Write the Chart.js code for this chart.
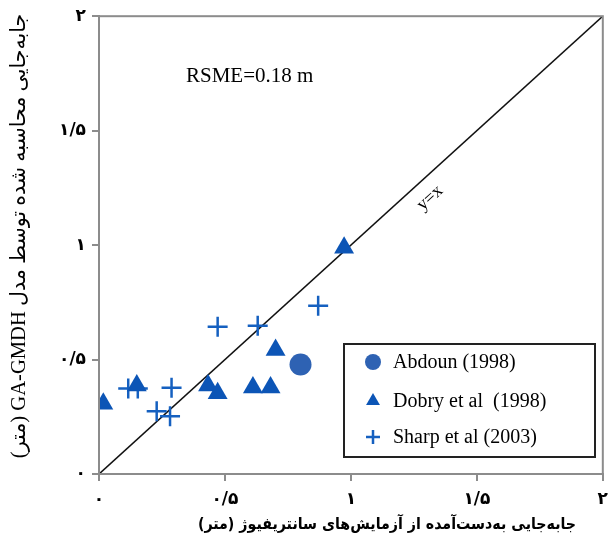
<!DOCTYPE html>
<html>
<head>
<meta charset="utf-8">
<script src="https://cdn.jsdelivr.net/npm/chart.js@4.4.1/dist/chart.umd.min.js"></script>
<style>
html, body { margin: 0; padding: 0; background: #fff; overflow: hidden; }
#wrap { width: 616px; height: 545px; }
</style>
</head>
<body>
<div id="wrap"><canvas id="chart"></canvas></div>
<script>
"use strict";
const tickValues = [0, 0.5, 1, 1.5, 2];
const tickLabels = ["۰", "۰/۵", "۱", "۱/۵", "۲"];
const abdounX = [0.80];
const abdounY = [0.478];
const dobryX = [0.017, 0.150, 0.433, 0.471, 0.611, 0.681, 0.701, 0.973];
const dobryY = [0.307, 0.387, 0.387, 0.353, 0.378, 0.378, 0.542, 0.988];
const sharpX = [0.116, 0.154, 0.288, 0.229, 0.282, 0.471, 0.630, 0.870];
const sharpY = [0.373, 0.373, 0.377, 0.274, 0.252, 0.643, 0.648, 0.735];
const lineX = [0, 2];
const lineY = [0, 2];
const legendLabels = ["Abdoun (1998)", "Dobry et al  (1998)", "Sharp et al (2003)"];
const xTitle = "جابه‌جایی به‌دست‌آمده از آزمایش‌های سانتریفیوژ (متر)";
const yTitle = "جابه‌جایی محاسبه شده توسط مدل GA-GMDH (متر)";
const rsmeText = "RSME=0.18 m";
const lineLabel = "y=x";

const axisGray = "#8c8c8c";
const toPoints = (xs, ys) => xs.map((x, i) => ({ x: x, y: ys[i] }));

function tickLabel(v) {
    const i = tickValues.indexOf(v);
    return i < 0 ? "" : tickLabels[i];
}

function axisOptions(isX) {
    return {
        type: "linear",
        min: 0,
        max: 2,
        afterBuildTicks: (axis) => axis.ticks = tickValues.map(v => ({ value: v })),
        afterFit: (scale) => {
            if (isX) scale.height = 71;
            else scale.width = 99;
        },
        ticks: {
            callback: (v) => tickLabel(v),
            color: "#000",
            padding: isX ? 8 : 6,
            font: { family: "DejaVu Sans", size: 17, weight: "bold" }
        },
        grid: {
            drawOnChartArea: false,
            drawTicks: true,
            tickLength: 7,
            color: axisGray,
            lineWidth: 2
        },
        border: { color: axisGray, width: 2 }
    };
}

// pick a font size so the text spans the wanted length
function fitFont(c, text, style, family, width) {
    c.font = style + ' 20px ' + family;
    const size = 20 * width / c.measureText(text).width;
    return style + ' ' + size.toFixed(1) + 'px ' + family;
}

// frame, titles, legend box and the text notes
const extras = {
    id: "extras",
    afterDatasetsDraw(chart) {
        const c = chart.ctx;
        const a = chart.chartArea;
        c.save();
        c.strokeStyle = axisGray;
        c.lineWidth = 2;
        c.strokeRect(a.left, a.top, a.right - a.left, a.bottom - a.top);

        c.fillStyle = "#000";
        c.direction = "ltr";
        c.textBaseline = "middle";
        c.textAlign = "left";
        c.font = '21px "Liberation Serif"';
        c.fillText(rsmeText, 186, 76);

        // label along the y=x line
        c.save();
        c.translate(430, 198);
        c.rotate(-Math.atan2(a.bottom - a.top, a.right - a.left));
        c.textAlign = "center";
        c.font = '18px "Liberation Serif"';
        c.fillText(lineLabel, 0, 0);
        c.restore();

        // legend
        c.lineWidth = 2;
        c.strokeStyle = "#222";
        c.strokeRect(344, 344, 251, 113);
        const rows = [362, 401, 437];
        const sets = chart.data.datasets;
        c.font = '20px "Liberation Serif"';
        for (let i = 0; i < 3; i++) {
            const ds = sets[i];
            const isCross = ds.pointStyle === "cross";
            c.fillStyle = ds.backgroundColor;
            c.strokeStyle = ds.borderColor;
            c.lineWidth = isCross ? 2.5 : 0;
            Chart.helpers.drawPoint(c, {
                pointStyle: ds.pointStyle,
                radius: isCross ? 7 : 8,
                borderWidth: isCross ? 2.5 : 0,
                rotation: 0
            }, 373, rows[i]);
            c.fillStyle = "#000";
            c.fillText(legendLabels[i], 393, rows[i] + 1);
        }

        // axis titles, right to left
        c.direction = "rtl";
        c.textAlign = "center";
        c.fillStyle = "#000";
        c.font = fitFont(c, xTitle, "bold", '"DejaVu Sans Condensed", "DejaVu Sans"', 378);
        c.fillText(xTitle, 387, 525);
        c.save();
        c.translate(20, 236);
        c.rotate(-Math.PI / 2);
        c.font = fitFont(c, yTitle, "normal", '"Liberation Serif", "DejaVu Sans"', 444);
        c.fillText(yTitle, 0, 0);
        c.restore();
        c.restore();
    }
};

const chart = new Chart(document.getElementById("chart").getContext("2d"), {
    type: "scatter",
    data: {
        datasets: [{
                label: legendLabels[0],
                data: toPoints(abdounX, abdounY),
                pointStyle: "circle",
                pointRadius: 11,
                pointBorderWidth: 0,
                backgroundColor: "#2e62b3",
                borderColor: "#2e62b3"
            }, {
                label: legendLabels[1],
                data: toPoints(dobryX, dobryY),
                pointStyle: "triangle",
                pointRadius: 11.5,
                pointBorderWidth: 0,
                backgroundColor: "#0c55b6",
                borderColor: "#0c55b6"
            }, {
                label: legendLabels[2],
                data: toPoints(sharpX, sharpY),
                pointStyle: "cross",
                pointRadius: 10,
                pointBorderWidth: 2.5,
                backgroundColor: "#1560c0",
                borderColor: "#1560c0"
            }, {
                label: lineLabel,
                data: toPoints(lineX, lineY),
                showLine: true,
                pointRadius: 0,
                borderWidth: 1.6,
                borderColor: "#111",
                backgroundColor: "#111"
            }]
    },
    options: {
        responsive: true,
        maintainAspectRatio: false,
        animation: false,
        layout: { padding: { top: 13, right: 0, left: 0, bottom: 0 } },
        plugins: {
            legend: { display: false },
            tooltip: { enabled: false }
        },
        scales: {
            x: axisOptions(true),
            y: axisOptions(false)
        }
    },
    plugins: [extras]
});
</script>
</body>
</html>
